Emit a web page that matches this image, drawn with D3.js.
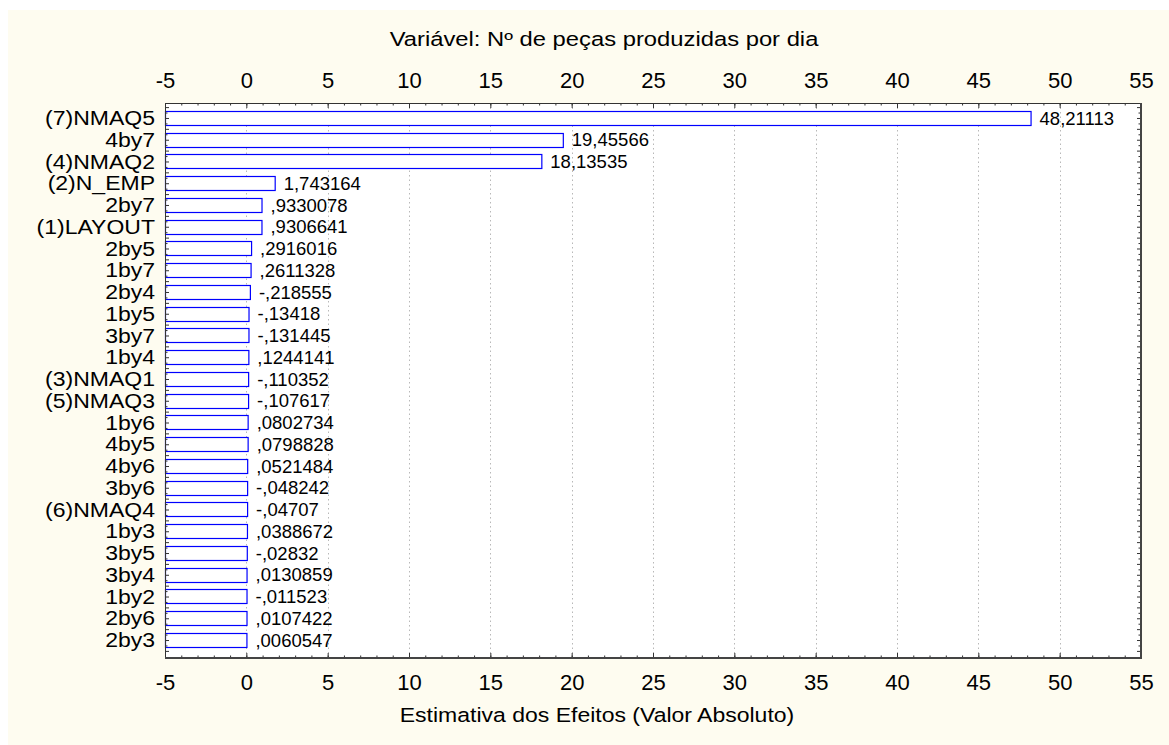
<!DOCTYPE html>
<html>
<head>
<meta charset="utf-8">
<script src="https://cdn.jsdelivr.net/npm/d3@7"></script>
<style>
  html, body { margin: 0; padding: 0; background: #ffffff; }
  svg { display: block; }
  text { font-family: "Liberation Sans", Arial, sans-serif; fill: #000; }
</style>
</head>
<body>
<svg id="chart" width="1169" height="745"></svg>
<script>
// ---- data ----
const categories = [
  "(7)NMAQ5", "4by7", "(4)NMAQ2", "(2)N_EMP", "2by7", "(1)LAYOUT", "2by5", "1by7",
  "2by4", "1by5", "3by7", "1by4", "(3)NMAQ1", "(5)NMAQ3", "1by6", "4by5", "4by6",
  "3by6", "(6)NMAQ4", "1by3", "3by5", "3by4", "1by2", "2by6", "2by3"
];
const effects = [
  48.21113, 19.45566, 18.13535, 1.743164, 0.9330078, 0.9306641, 0.2916016, 0.2611328,
  -0.218555, -0.13418, -0.131445, 0.1244141, -0.110352, -0.107617, 0.0802734, 0.0798828, 0.0521484,
  -0.048242, -0.04707, 0.0388672, -0.02832, 0.0130859, -0.011523, 0.0107422, 0.0060547
];
const xTickValues = [-5, 0, 5, 10, 15, 20, 25, 30, 35, 40, 45, 50, 55];
const xDomain = [-5, 55];
const chartTitle = "Variável: Nº de peças produzidas por dia";
const xAxisTitle = "Estimativa dos Efeitos (Valor Absoluto)";

// ---- layout ----
const svg = d3.select("#chart");
const plot = { left: 165, right: 1141, top: 103, bottom: 658 };

svg.append("rect").attr("x", 8).attr("y", 10).attr("width", 1161).attr("height", 735)
  .attr("fill", "#fefcf0");
svg.append("rect").attr("x", plot.left).attr("y", plot.top)
  .attr("width", plot.right - plot.left).attr("height", plot.bottom - plot.top)
  .attr("fill", "#ffffff");

const x = d3.scaleLinear().domain(xDomain).range([plot.left, plot.right]);
const y = d3.scaleBand().domain(categories).range([107.1, 650.9])
  .paddingInner(0.35).paddingOuter(0.175);

// grid
svg.append("g").selectAll("line").data(xTickValues.filter(v => v > xDomain[0] && v < xDomain[1]))
  .join("line")
  .attr("x1", d => Math.round(x(d)) + 0.5).attr("x2", d => Math.round(x(d)) + 0.5)
  .attr("y1", plot.top).attr("y2", plot.bottom)
  .attr("stroke", "#b8b8b8").attr("stroke-width", 1).attr("stroke-dasharray", "1.5,3");

// bars
svg.append("g").selectAll("rect").data(categories)
  .join("rect")
  .attr("x", x(xDomain[0]) + 0.5)
  .attr("y", (d) => Math.round(y(d)) + 0.5)
  .attr("width", (d, i) => x(Math.abs(effects[i])) - x(xDomain[0]))
  .attr("height", Math.round(y.bandwidth()))
  .attr("fill", "#ffffff").attr("stroke", "#0000ff").attr("stroke-width", 1.2);

// value labels
function fmt(v) {
  let d = 7;
  let s;
  while (d >= 0) {
    s = v.toFixed(d).replace(/^(-?)0\./, "$1.");
    if (s.length <= 8) break;
    d--;
  }
  if (s.indexOf(".") >= 0) s = s.replace(/0+$/, "").replace(/\.$/, "");
  return s.replace(".", ",");
}
svg.append("g").selectAll("text").data(categories)
  .join("text")
  .attr("x", (d, i) => x(Math.abs(effects[i])) + 9)
  .attr("y", d => y(d) + y.bandwidth() / 2)
  .attr("dy", "0.36em")
  .attr("font-size", 18.5)
  .text((d, i) => fmt(effects[i]));

// category labels
svg.append("g").selectAll("text").data(categories)
  .join("text")
  .attr("transform", d => `translate(155,${y(d) + y.bandwidth() / 2}) scale(1.18,1)`)
  .attr("text-anchor", "end")
  .attr("dy", "0.36em")
  .attr("font-size", 19.5)
  .text(d => d);

// x axes (top and bottom), major + minor inward ticks
const minorVals = d3.range(xDomain[0], xDomain[1] + 1, 1);
function styleAxis(g) {
  g.select(".domain").remove();
  g.selectAll(".tick line").attr("stroke", "#333");
  g.selectAll(".tick text").attr("font-size", 22).attr("font-family", "Liberation Sans, Arial, sans-serif").attr("fill", "#000");
}
const tickFmt = d => String(d);
svg.append("g").attr("transform", `translate(0,${plot.top})`)
  .call(d3.axisTop(x).tickValues(minorVals).tickFormat("").tickSizeInner(-2.5).tickSizeOuter(0))
  .call(styleAxis);
svg.append("g").attr("transform", `translate(0,${plot.top})`)
  .call(d3.axisTop(x).tickValues(xTickValues).tickFormat(tickFmt).tickSizeInner(-5).tickSizeOuter(0).tickPadding(15))
  .call(styleAxis);
svg.append("g").attr("transform", `translate(0,${plot.bottom})`)
  .call(d3.axisBottom(x).tickValues(minorVals).tickFormat("").tickSizeInner(-2.5).tickSizeOuter(0))
  .call(styleAxis);
svg.append("g").attr("transform", `translate(0,${plot.bottom})`)
  .call(d3.axisBottom(x).tickValues(xTickValues).tickFormat(tickFmt).tickSizeInner(-5).tickSizeOuter(0).tickPadding(16))
  .call(styleAxis);

// y-side ticks (left and right), at half and quarter category steps
const yLin = d3.scaleLinear().domain([0, categories.length]).range([107.1, 650.9]);
const halfVals = d3.range(0, categories.length + 0.01, 0.5);
const quarterVals = d3.range(0.25, categories.length, 0.5);
[[plot.left, d3.axisLeft], [plot.right, d3.axisRight]].forEach(([px, ax]) => {
  svg.append("g").attr("transform", `translate(${px},0)`)
    .call(ax(yLin).tickValues(halfVals).tickFormat("").tickSizeInner(-4).tickSizeOuter(0))
    .call(styleAxis);
  svg.append("g").attr("transform", `translate(${px},0)`)
    .call(ax(yLin).tickValues(quarterVals).tickFormat("").tickSizeInner(-2.5).tickSizeOuter(0))
    .call(styleAxis);
});

// plot frame
svg.append("line").attr("x1", plot.left + 0.5).attr("x2", plot.left + 0.5)
  .attr("y1", plot.top).attr("y2", plot.bottom).attr("stroke", "#333").attr("stroke-width", 1);
svg.append("line").attr("x1", plot.left).attr("x2", plot.right)
  .attr("y1", plot.top + 0.5).attr("y2", plot.top + 0.5).attr("stroke", "#333").attr("stroke-width", 1);
svg.append("line").attr("x1", plot.right).attr("x2", plot.right)
  .attr("y1", plot.top).attr("y2", plot.bottom + 1).attr("stroke", "#444").attr("stroke-width", 2);
svg.append("line").attr("x1", plot.left).attr("x2", plot.right + 1)
  .attr("y1", plot.bottom).attr("y2", plot.bottom).attr("stroke", "#444").attr("stroke-width", 2);

// titles
svg.append("text")
  .attr("transform", "translate(604,46) scale(1.22,1)")
  .attr("text-anchor", "middle").attr("font-size", 19.5)
  .text(chartTitle);
svg.append("text")
  .attr("transform", "translate(597,722) scale(1.18,1)")
  .attr("text-anchor", "middle").attr("font-size", 19.5)
  .text(xAxisTitle);
</script>
</body>
</html>
